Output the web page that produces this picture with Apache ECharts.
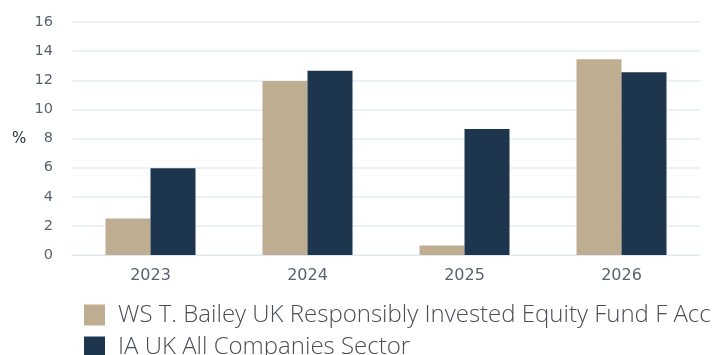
<!DOCTYPE html>
<html><head><meta charset="utf-8">
<script src="https://cdn.jsdelivr.net/npm/echarts@6/dist/echarts.min.js"></script>
<style>html,body{margin:0;padding:0;background:#fff;}#c{width:728px;height:355px;}</style>
</head><body><div id="c"></div>
<script>
var categories = ['2023', '2024', '2025', '2026'];
var fundName = 'WS T. Bailey UK Responsibly Invested Equity Fund F Acc';
var sectorName = 'IA UK All Companies Sector';
var fundValues = [2.5, 11.95, 0.65, 13.45];
var sectorValues = [5.95, 12.65, 8.65, 12.55];
var yTicks = [0, 2, 4, 6, 8, 10, 12, 14, 16];

var legendText = {fontFamily: 'Open Sans', fontWeight: 300, fontSize: 24, color: '#4a4f57', padding: [0, 0, 0, 8]};
var chart = echarts.init(document.getElementById('c'), null, {renderer: 'canvas'});
chart.setOption({
  animation: false,
  backgroundColor: '#ffffff',
  grid: {left: 72, right: 28, top: 22, bottom: 100, containLabel: false},
  legend: [
    {left: 84, top: 303, itemWidth: 21, itemHeight: 21, icon: 'rect', padding: 0,
     textStyle: legendText, data: [fundName]},
    {left: 84, top: 335, itemWidth: 21, itemHeight: 21, icon: 'rect', padding: 0,
     textStyle: legendText, data: [sectorName]}
  ],
  graphic: [{type: 'text', left: 12, top: 132, style: {text: '%', font: '15px "DejaVu Sans"', fill: '#2a3442'}}],
  xAxis: {
    type: 'category', data: categories,
    axisLine: {lineStyle: {color: '#dfe8f1'}},
    axisTick: {show: false},
    axisLabel: {fontFamily: 'DejaVu Sans', fontSize: 16, color: '#5a6270', margin: 13}
  },
  yAxis: {
    type: 'value', min: yTicks[0], max: yTicks[yTicks.length - 1], interval: 2,
    axisLine: {show: false}, axisTick: {show: false},
    axisLabel: {fontFamily: 'DejaVu Sans', fontSize: 14.5, color: '#5a6270', margin: 19},
    splitLine: {lineStyle: {color: '#e3ecf5', width: 1.5}}
  },
  series: [
    {name: fundName, type: 'bar', data: fundValues, barWidth: 45, barGap: '0%',
     itemStyle: {color: '#bead90'}},
    {name: sectorName, type: 'bar', data: sectorValues, barWidth: 45, barGap: '0%',
     itemStyle: {color: '#1e354e'}}
  ]
});
</script></body></html>
